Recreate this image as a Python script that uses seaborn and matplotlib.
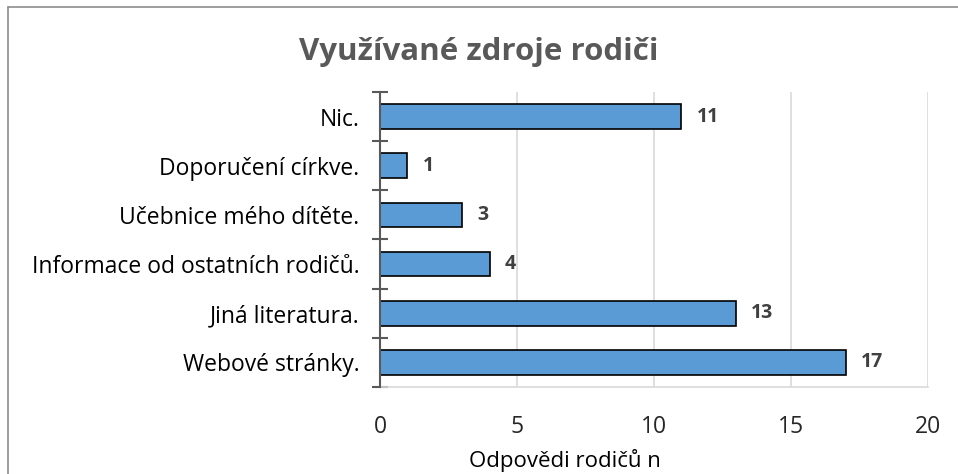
import matplotlib
matplotlib.use('Agg')
import matplotlib.pyplot as plt
import seaborn as sns
import pandas as pd
import numpy as np

sns.set_style('white')
plt.rcParams['font.family'] = ['Open Sans', 'DejaVu Sans']

# data
zdroje = ['Nic.', 'Doporučení církve.', 'Učebnice mého dítěte.',
          'Informace od ostatních rodičů.', 'Jiná literatura.', 'Webové stránky.']
pocty = [11, 1, 3, 4, 13, 17]
x_ticks = [0, 5, 10, 15, 20]

df = pd.DataFrame({'zdroj': zdroje, 'pocet': pocty})

fig = plt.figure(figsize=(9.58, 4.74), dpi=100)
ax = fig.add_axes([0.3967, 0.1835, 0.5720, 0.6225])

sns.barplot(data=df, x='pocet', y='zdroj', orient='h', color='#5B9BD5',
            edgecolor='black', linewidth=1.2, width=0.5, saturation=1, ax=ax, zorder=3)

ax.set_xlim(0, 20)
ax.set_ylim(len(zdroje) - 0.5, -0.5)
ax.set_xticks(x_ticks)
ax.set_xticklabels([str(t) for t in x_ticks], fontsize=16.5)
ax.tick_params(axis='x', length=0, pad=20)
ax.tick_params(axis='y', which='major', length=0, pad=15, labelsize=16.5, labelcolor='black')
ax.set_yticks(np.arange(-0.5, len(zdroje)), minor=True)
ax.tick_params(axis='y', which='minor', left=True, length=11, direction='inout',
               color='#595959', width=1.5)
ax.grid(axis='x', color='#D9D9D9', linewidth=1.2, zorder=0)
ax.set_axisbelow(True)

for s in ['top', 'right']:
    ax.spines[s].set_visible(False)
ax.spines['left'].set_color('#595959')
ax.spines['left'].set_linewidth(1.5)
ax.spines['left'].set_zorder(5)
ax.spines['bottom'].set_color('#D9D9D9')
ax.spines['bottom'].set_linewidth(1.2)

ax.set_ylabel('')
ax.set_xlabel('')
fig.text(565 / 958, 1 - 461 / 474, 'Odpovědi rodičů n', ha='center', va='center',
         fontsize=16, color='black')

for i, v in enumerate(pocty):
    ax.text(v + 0.55, i, str(v), va='center', ha='left', fontsize=14,
            fontweight='bold', color='#404040')

fig.text(0.5, 1 - 52 / 474, 'Využívané zdroje rodiči', ha='center', va='center',
         fontsize=22.5, fontweight='bold', color='#595959')

# ramecek jen nahore a vlevo
fig.add_artist(plt.Line2D([8 / 958, 1], [1 - 7 / 474, 1 - 7 / 474], transform=fig.transFigure,
                          color='#8C8C8C', linewidth=1.2))
fig.add_artist(plt.Line2D([8 / 958, 8 / 958], [0, 1 - 7 / 474], transform=fig.transFigure,
                          color='#8C8C8C', linewidth=1.2))

fig.savefig('out.png', dpi=100)
